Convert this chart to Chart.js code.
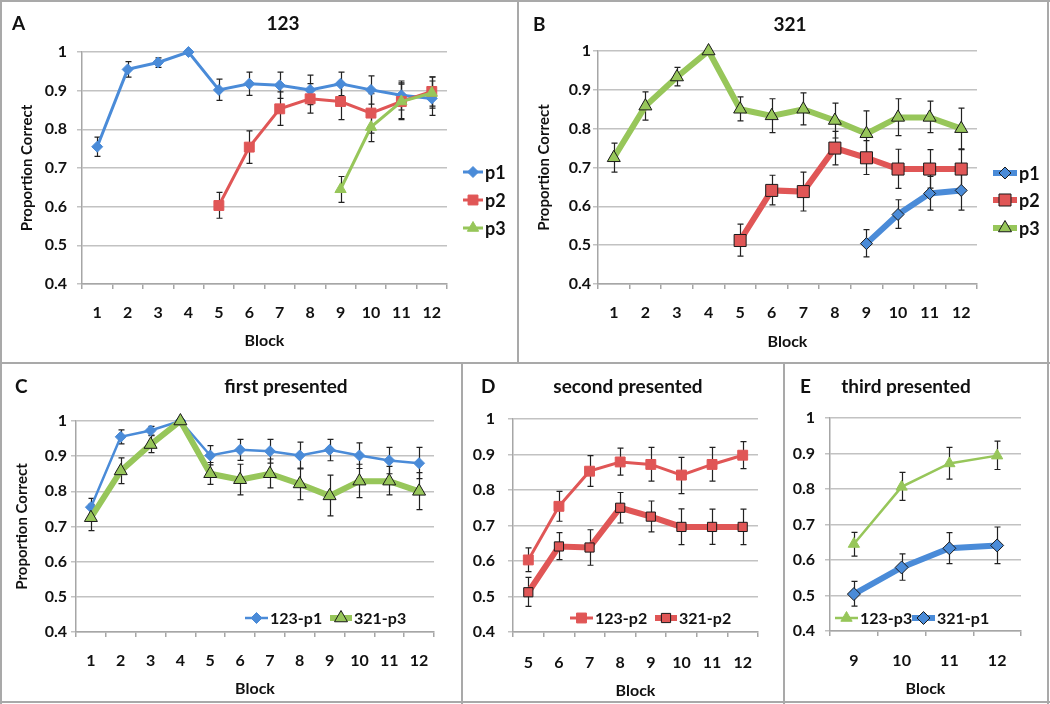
<!DOCTYPE html>
<html>
<head>
<meta charset="utf-8">
<script src="https://cdn.jsdelivr.net/npm/chart.js@4.4.1/dist/chart.umd.min.js"></script>
<style>
body { margin:0; background:#fff; }
#fig { position:relative; width:1050px; height:704px; overflow:hidden; }
#fig canvas { position:absolute; }
.ln { position:absolute; background:#a9a9a9; }
</style>
</head>
<body>
<div id="fig">
  <div class="ln" style="left:0;top:0;width:1050px;height:2px"></div>
  <div class="ln" style="left:0;top:0;width:2px;height:704px"></div>
  <div class="ln" style="left:1047px;top:0;width:2px;height:704px"></div>
  <div class="ln" style="left:0;top:701px;width:1050px;height:2px"></div>
  <div class="ln" style="left:0;top:362px;width:1050px;height:2px"></div>
  <div class="ln" style="left:517px;top:0;width:2px;height:363px"></div>
  <div class="ln" style="left:461px;top:363px;width:2px;height:341px"></div>
  <div class="ln" style="left:783px;top:363px;width:2px;height:341px"></div>
  <canvas id="cA" width="518" height="363" style="left:0;top:0"></canvas>
  <canvas id="cB" width="532" height="363" style="left:518px;top:0"></canvas>
  <canvas id="cC" width="462" height="341" style="left:0;top:363px"></canvas>
  <canvas id="cD" width="322" height="341" style="left:462px;top:363px"></canvas>
  <canvas id="cE" width="266" height="341" style="left:784px;top:363px"></canvas>
</div>
<script>
// blocks and y ticks
const blocks = ['1', '2', '3', '4', '5', '6', '7', '8', '9', '10', '11', '12'];
const yTickValues = [0.4, 0.5, 0.6, 0.7, 0.8, 0.9, 1];

// order 123
const p1_123 = [0.755, 0.955, 0.973, 1.0, 0.902, 0.918, 0.914, 0.902, 0.918, 0.902, 0.888, 0.880];
const p1_123Lo = [0.730, 0.935, 0.960, null, 0.875, 0.888, 0.880, 0.864, 0.887, 0.865, 0.850, 0.836];
const p1_123Hi = [0.780, 0.975, 0.985, null, 0.930, 0.948, 0.948, 0.940, 0.948, 0.938, 0.925, 0.925];
const p2_123 = [null, null, null, null, 0.603, 0.754, 0.853, 0.879, 0.872, 0.842, 0.872, 0.898];
const p2_123Lo = [null, null, null, null, 0.570, 0.712, 0.810, 0.842, 0.825, 0.790, 0.825, 0.860];
const p2_123Hi = [null, null, null, null, 0.637, 0.796, 0.897, 0.918, 0.920, 0.892, 0.920, 0.936];
const p3_123 = [null, null, null, null, null, null, null, null, 0.645, 0.806, 0.872, 0.894];
const p3_123Lo = [null, null, null, null, null, null, null, null, 0.611, 0.768, 0.828, 0.855];
const p3_123Hi = [null, null, null, null, null, null, null, null, 0.678, 0.847, 0.917, 0.935];

// order 321
const p1_321 = [null, null, null, null, null, null, null, null, 0.504, 0.579, 0.633, 0.641];
const p1_321Lo = [null, null, null, null, null, null, null, null, 0.470, 0.543, 0.590, 0.590];
const p1_321Hi = [null, null, null, null, null, null, null, null, 0.540, 0.617, 0.677, 0.693];
const p2_321 = [null, null, null, null, 0.512, 0.641, 0.638, 0.750, 0.725, 0.696, 0.696, 0.696];
const p2_321Lo = [null, null, null, null, 0.472, 0.604, 0.588, 0.707, 0.682, 0.646, 0.647, 0.646];
const p2_321Hi = [null, null, null, null, 0.554, 0.680, 0.688, 0.793, 0.769, 0.747, 0.746, 0.746];
const p3_321 = [0.725, 0.858, 0.933, 1.0, 0.850, 0.833, 0.850, 0.821, 0.787, 0.829, 0.829, 0.800];
const p3_321Lo = [0.688, 0.822, 0.910, null, 0.820, 0.790, 0.810, 0.776, 0.730, 0.782, 0.790, 0.748];
const p3_321Hi = [0.763, 0.895, 0.958, null, 0.882, 0.877, 0.892, 0.866, 0.846, 0.877, 0.871, 0.853];

const BLUE = '#4a8bd8', RED = '#e05656', GREEN = '#97c65a';
const FONT = 'Lato, "Open Sans", sans-serif';
const TXT = '#111';

// thin line, plain markers (123) / thick line, outlined markers (321)
function thin(label, color, style, r, data, lo, hi, order, w) {
  return { label, data, errLo: lo, errHi: hi, order, borderColor: color, backgroundColor: color,
    borderWidth: w || 3, pointStyle: style, pointRadius: r, pointBackgroundColor: color,
    pointBorderColor: color, pointBorderWidth: 1, clip: false };
}
function thick(label, color, style, r, data, lo, hi, order) {
  return { label, data, errLo: lo, errHi: hi, order, borderColor: color, backgroundColor: color,
    borderWidth: 6, pointStyle: style, pointRadius: r, pointBackgroundColor: color,
    pointBorderColor: '#1a1a1a', pointBorderWidth: 1, clip: false };
}

const errorBars = {
  id: 'errorBars',
  beforeDatasetsDraw(chart) {
    const ctx = chart.ctx, y = chart.scales.y;
    ctx.save();
    ctx.strokeStyle = '#222';
    ctx.lineWidth = 1.2;
    chart.data.datasets.forEach((ds, di) => {
      const meta = chart.getDatasetMeta(di);
      meta.data.forEach((pt, i) => {
        if (ds.data[i] == null || ds.errLo[i] == null) return;
        const x = Math.round(pt.x) + 0.5;
        const a = y.getPixelForValue(ds.errLo[i]), b = y.getPixelForValue(ds.errHi[i]);
        ctx.beginPath();
        ctx.moveTo(x, a); ctx.lineTo(x, b);
        ctx.moveTo(x - 3, a); ctx.lineTo(x + 3, a);
        ctx.moveTo(x - 3, b); ctx.lineTo(x + 3, b);
        ctx.stroke();
      });
    });
    ctx.restore();
  }
};

const panelText = {
  id: 'panelText',
  afterDraw(chart, args, o) {
    const ctx = chart.ctx;
    ctx.save();
    ctx.fillStyle = TXT;
    ctx.font = 'bold 19px ' + FONT;
    ctx.textBaseline = 'middle';
    ctx.textAlign = 'left';
    ctx.fillText(o.letter, o.lx, o.ty);
    ctx.textAlign = 'center';
    ctx.fillText(o.title, o.tx, o.ty);
    // legend
    ctx.font = 'bold ' + o.lsize + 'px ' + FONT;
    ctx.textAlign = 'left';
    o.legend.forEach((it, k) => {
      const ds = chart.data.datasets[k];
      ctx.strokeStyle = ds.borderColor;
      ctx.lineWidth = ds.borderWidth;
      ctx.beginPath();
      ctx.moveTo(it.x, it.y); ctx.lineTo(it.x + it.len, it.y);
      ctx.stroke();
      ctx.fillStyle = ds.pointBackgroundColor;
      ctx.strokeStyle = ds.pointBorderColor;
      ctx.lineWidth = ds.pointBorderWidth;
      Chart.helpers.drawPoint(ctx, { pointStyle: ds.pointStyle, radius: ds.pointRadius, rotation: 0, borderWidth: ds.pointBorderWidth },
        it.x + it.len / 2, it.y);
      ctx.fillStyle = TXT;
      ctx.fillText(ds.label, it.x + it.len + 2, it.y + 1);
    });
    ctx.restore();
  }
};

function panel(id, p) {
  new Chart(document.getElementById(id), {
    type: 'line',
    data: { labels: p.labels, datasets: p.datasets },
    options: {
      responsive: false,
      animation: false,
      events: [],
      layout: { padding: { top: p.top, right: p.right, left: 0, bottom: 0 } },
      plugins: {
        legend: { display: false },
        tooltip: { enabled: false },
        panelText: p.text
      },
      scales: {
        x: {
          offset: true,
          grid: { offset: true, drawOnChartArea: false, tickLength: 5, color: '#a6a6a6', lineWidth: 1.5 },
          border: { color: '#a6a6a6', width: 1.5 },
          ticks: { font: { family: FONT, size: 16, weight: 'bold' }, color: TXT, padding: p.xPad, maxRotation: 0, autoSkip: false },
          title: { display: true, text: 'Block', color: TXT, font: { family: FONT, size: 16, weight: 'bold' },
            padding: { top: 0, bottom: p.blockPad } },
          afterFit: s => { s.height = p.xh; }
        },
        y: {
          min: 0.4, max: 1,
          afterBuildTicks: s => { s.ticks = yTickValues.map(v => ({ value: v })); },
          grid: { color: '#c2c2c2', lineWidth: 1.5, tickLength: 5 },
          border: { color: '#a6a6a6', width: 1.5 },
          ticks: { font: { family: FONT, size: 16, weight: 'bold' }, color: TXT, padding: p.yPad, callback: v => String(v) },
          title: { display: !!p.yTitle, text: 'Proportion Correct', color: TXT,
            font: { family: FONT, size: 15, weight: 'bold' }, padding: { top: p.yTitle || 0, bottom: 0 } },
          afterFit: s => { s.width = p.yw; }
        }
      }
    },
    plugins: [errorBars, panelText]
  });
}

// A: 123
panel('cA', {
  labels: blocks, top: 52, right: 518 - 447, yw: 82, xh: 79, xPad: 14, blockPad: 13, yPad: 10, yTitle: 18,
  datasets: [
    thin('p1', BLUE, 'rectRot', 5.5, p1_123, p1_123Lo, p1_123Hi, 3),
    thin('p2', RED, 'rect', 7, p2_123, p2_123Lo, p2_123Hi, 2),
    thin('p3', GREEN, 'triangle', 6.5, p3_123, p3_123Lo, p3_123Hi, 1)
  ],
  text: { letter: 'A', lx: 12, title: '123', tx: 283, ty: 24, lsize: 18,
    legend: [{ x: 463, y: 172, len: 20 }, { x: 463, y: 200, len: 20 }, { x: 463, y: 228, len: 20 }] }
});

// B: 321
panel('cB', {
  labels: blocks, top: 51, right: 532 - 459, yw: 80, xh: 79, xPad: 14, blockPad: 12, yPad: 2, yTitle: 17,
  datasets: [
    thick('p1', BLUE, 'rectRot', 6, p1_321, p1_321Lo, p1_321Hi, 3),
    thick('p2', RED, 'rect', 8.5, p2_321, p2_321Lo, p2_321Hi, 2),
    thick('p3', GREEN, 'triangle', 7.5, p3_321, p3_321Lo, p3_321Hi, 1)
  ],
  text: { letter: 'B', lx: 15, title: '321', tx: 272, ty: 25, lsize: 18,
    legend: [{ x: 475, y: 173, len: 24 }, { x: 475, y: 200, len: 24 }, { x: 475, y: 228, len: 24 }] }
});

// C: first presented
panel('cC', {
  labels: blocks, top: 58, right: 462 - 434, yw: 76, xh: 72, xPad: 14, blockPad: 6, yPad: 4, yTitle: 13,
  datasets: [
    thin('123-p1', BLUE, 'rectRot', 5.5, p1_123, p1_123Lo, p1_123Hi, 2, 2.5),
    thick('321-p3', GREEN, 'triangle', 7.5, p3_321, p3_321Lo, p3_321Hi, 1)
  ],
  text: { letter: 'C', lx: 15, title: 'first presented', tx: 286, ty: 24, lsize: 16,
    legend: [{ x: 245, y: 255, len: 23 }, { x: 330, y: 255, len: 22 }] }
});

// D: second presented (blocks 5-12)
panel('cD', {
  labels: blocks.slice(4), top: 56, right: 322 - 296, yw: 51, xh: 72, xPad: 16, blockPad: 4, yPad: 13, yTitle: 0,
  datasets: [
    thin('123-p2', RED, 'rect', 7, p2_123.slice(4), p2_123Lo.slice(4), p2_123Hi.slice(4), 2, 3),
    thick('321-p2', RED, 'rect', 6.5, p2_321.slice(4), p2_321Lo.slice(4), p2_321Hi.slice(4), 1)
  ],
  text: { letter: 'D', lx: 19, title: 'second presented', tx: 166, ty: 24, lsize: 16,
    legend: [{ x: 108, y: 255, len: 23 }, { x: 193, y: 255, len: 22 }] }
});

// E: third presented (blocks 9-12)
panel('cE', {
  labels: blocks.slice(8), top: 55, right: 266 - 237, yw: 46, xh: 73, xPad: 15, blockPad: 6, yPad: 10, yTitle: 0,
  datasets: [
    thin('123-p3', GREEN, 'triangle', 6.5, p3_123.slice(8), p3_123Lo.slice(8), p3_123Hi.slice(8), 2, 2.5),
    thick('321-p1', BLUE, 'rectRot', 6.5, p1_321.slice(8), p1_321Lo.slice(8), p1_321Hi.slice(8), 1)
  ],
  text: { letter: 'E', lx: 16, title: 'third presented', tx: 122, ty: 24, lsize: 16,
    legend: [{ x: 51, y: 255, len: 23 }, { x: 128, y: 255, len: 23 }] }
});
</script>
</body>
</html>
